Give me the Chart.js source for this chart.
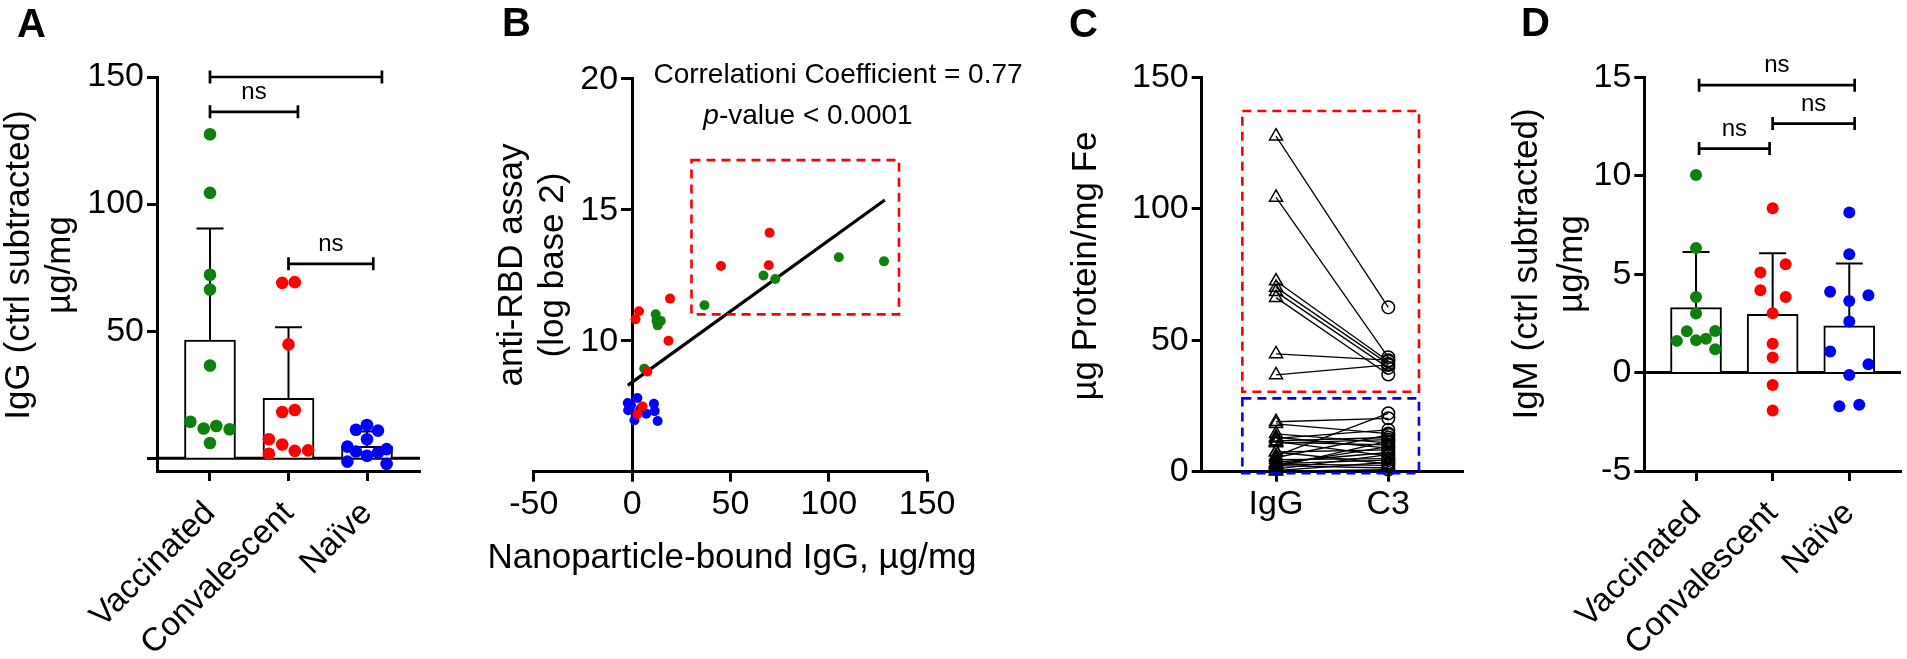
<!DOCTYPE html>
<html>
<head>
<meta charset="utf-8">
<title>Nanoparticle-bound IgG / C3 / IgM</title>
<script src="https://cdn.jsdelivr.net/npm/chart.js@4.4.1/dist/chart.umd.min.js"></script>
<style>
  body { margin: 0; background: #fff; }
  #wrap { position: relative; width: 1907px; height: 659px; overflow: hidden; background: #fff; }
  #wrap canvas { position: absolute; top: 0; }
</style>
</head>
<body>
<div id="wrap">
  <canvas id="panelA" width="440" height="659" style="left:0px"></canvas>
  <canvas id="panelB" width="610" height="659" style="left:440px"></canvas>
  <canvas id="panelC" width="440" height="659" style="left:1050px"></canvas>
  <canvas id="panelD" width="417" height="659" style="left:1490px"></canvas>
</div>
<script>
// ---- data ----
var groups = ['Vaccinated', 'Convalescent', 'Naïve'];

// A: IgG (ctrl subtracted), ug/mg. jitter = horizontal dot offset in the swarm
var iggVaccinated = [127.5, 104.4, 72.2, 66.4, 36.5, 14.4, 11.7, 12.7, 11.4, 6.0];
var iggVaccinatedJitter = [0, 0, 0, 0, 0, -0.25, -0.08, 0.08, 0.25, 0];
var iggConvalescent = [69.0, 69.3, 44.8, 18.2, 19.0, 7.5, 5.4, 2.9, 3.1, 1.8];
var iggConvalescentJitter = [-0.08, 0.08, 0, -0.08, 0.08, -0.25, -0.08, 0.08, 0.25, -0.25];
var iggNaive = [13.1, 11.2, 10.9, 7.5, 4.6, 3.6, 2.7, 2.3, 1.0, -1.3, -2.2];
var iggNaiveJitter = [0, -0.14, 0.14, 0, -0.25, 0.25, -0.14, 0.14, 0, -0.25, 0.25];
var iggMean = [46.5, 23.6, 4.7];
var iggMeanPlusSd = [90.4, 51.6, 10.5];
var sigA = [
  {from: 0, to: 2.19, y: 150, text: ''},
  {from: 0, to: 1.12, y: 136.3, text: 'ns'},
  {from: 1.0, to: 2.08, y: 76.5, text: 'ns'}
];

// B: anti-RBD assay vs nanoparticle-bound IgG
var rbdVaccX = [12.0, 12.4, 14.6, 13.0, 36.8, 66.8, 72.8, 105.1, 128.1, 6.2];
var rbdVaccY = [11.0, 10.75, 10.75, 10.58, 11.35, 12.48, 12.35, 13.18, 13.02, 8.93];
var rbdConvX = [1.75, 3.5, 19.3, 18.5, 45.2, 69.5, 69.9, 7.8, 5.3, 2.7];
var rbdConvY = [10.81, 11.12, 11.6, 9.99, 12.84, 12.87, 14.11, 8.82, 7.49, 7.19];
var rbdNaiveX = [-2.2, 2.7, -2.0, 11.1, 11.5, 7.2, 1.2, 13.0, -0.6, 3.3, 4.5];
var rbdNaiveY = [7.62, 7.81, 7.34, 7.59, 7.31, 7.21, 6.96, 6.93, 7.53, 7.27, 7.42];
var rbdTicks = [10, 15, 20];
var fitX = [-2.2, 128.5];
var fitY = [8.29, 15.36];
var boxB = {x0: 30.2, x1: 135.7, y0: 11.0, y1: 16.88};

// C: paired IgG / C3, ug protein per mg Fe
var pairLabels = ['IgG', 'C3'];
var pairIgG = [127.6, 104.3, 72.5, 70.1, 68.4, 66.2, 44.8, 36.8,
  19.0, 18.2, 14.4, 13.1, 12.7, 11.7, 11.4, 11.2, 10.9, 7.5, 7.5, 6.0, 5.4, 4.6,
  3.6, 3.1, 2.9, 2.7, 2.3, 1.8, 1.0, 0.4, 0.2];
var pairC3 = [62.5, 43.5, 42.0, 41.0, 39.5, 37.0, 42.4, 40.6,
  20.3, 14.5, 11.0, 9.0, 15.9, 13.0, 6.0, 10.2, 12.2, 3.0, 8.3, 22.2, 14.0, 5.0,
  7.3, 4.4, 2.4, 9.5, 1.4, 11.6, 6.5, 3.6, 0.8];
var boxHigh = {x0: -0.30, x1: 1.273, y0: 30.4, y1: 137.2};
var boxLow = {x0: -0.30, x1: 1.273, y0: -0.6, y1: 27.9};

// D: IgM (ctrl subtracted), ug/mg
var igmVaccinated = [10.04, 6.33, 3.84, 3.0, 2.10, 2.11, 1.61, 1.64, 1.72, 1.18];
var igmVaccinatedJitter = [0, 0, 0, 0, -0.12, 0.25, -0.25, 0, 0.13, 0.25];
var igmConvalescent = [8.35, 5.08, 5.50, 4.18, 3.84, 3.01, 1.47, 0.76, -0.63, -1.93];
var igmConvalescentJitter = [0, -0.16, 0.17, -0.16, 0.17, 0, 0, 0, 0, 0];
var igmNaive = [8.13, 6.01, 4.10, 3.93, 3.64, 2.59, 1.07, 0.42, -0.12, -1.71, -1.64];
var igmNaiveJitter = [0, 0, -0.25, 0.25, 0, 0, -0.25, 0.25, 0, -0.13, 0.13];
var igmMean = [3.30, 2.96, 2.37];
var igmMeanPlusSd = [6.13, 6.06, 5.54];
var sigD = [
  {from: 0.04, to: 2.07, y: 14.6, text: 'ns'},
  {from: 1.0, to: 2.07, y: 12.65, text: 'ns'},
  {from: 0.04, to: 0.96, y: 11.38, text: 'ns'}
];

// ---- styling ----
var FONT = "'Liberation Sans', Arial, Helvetica, sans-serif";
var GREEN = '#0f800f', RED = '#ff0000', BLUE = '#0000ff', BLACK = '#000000';
Chart.defaults.font.family = FONT;
Chart.defaults.color = BLACK;

function swarm(values, jitter, group) {
  return values.map(function (v, i) { return {x: group + jitter[i], y: v}; });
}
function pts(xs, ys) {
  return xs.map(function (x, i) { return {x: x, y: ys[i]}; });
}
function grid() {
  return {display: true, drawOnChartArea: false, drawTicks: true, tickLength: 10, tickWidth: 3, color: BLACK, offset: false};
}
var axisBorder = {display: true, color: BLACK, width: 3};

// extra drawing per canvas (titles, brackets, error bars, dashed boxes)
var decor = {};

function drawRect(ctx, xs, ys, b, color) {
  var l = xs.getPixelForValue(b.x0), r = xs.getPixelForValue(b.x1);
  var t = ys.getPixelForValue(b.y1), btm = ys.getPixelForValue(b.y0);
  ctx.save();
  ctx.strokeStyle = color; ctx.lineWidth = 2.6; ctx.setLineDash([9, 6]);
  ctx.strokeRect(l, t, r - l, btm - t);
  ctx.restore();
}

var decorPlugin = {
  id: 'decor',
  beforeDatasetsDraw: function (chart) {
    var d = decor[chart.canvas.id];
    var ctx = chart.ctx, xs = chart.scales.x, ys = chart.scales.y, area = chart.chartArea;
    ctx.save();
    ctx.strokeStyle = BLACK;
    if (d.zeroLine) {
      var y0 = ys.getPixelForValue(0);
      ctx.lineWidth = 3;
      ctx.beginPath(); ctx.moveTo(area.left, y0); ctx.lineTo(area.right, y0); ctx.stroke();
    }
    if (d.errorBars) {
      ctx.lineWidth = 2;
      d.errorBars.mean.forEach(function (m, i) {
        var x = xs.getPixelForValue(i);
        var yb = ys.getPixelForValue(m), yt = ys.getPixelForValue(d.errorBars.top[i]);
        ctx.beginPath();
        ctx.moveTo(x, yb); ctx.lineTo(x, yt);
        ctx.moveTo(x - 13.5, yt); ctx.lineTo(x + 13.5, yt);
        ctx.stroke();
      });
    }
    ctx.restore();
  },
  afterDatasetsDraw: function (chart) {
    var d = decor[chart.canvas.id];
    if (!d.boxes) return;
    d.boxes.forEach(function (b) { drawRect(chart.ctx, chart.scales.x, chart.scales.y, b.box, b.color); });
  },
  afterDraw: function (chart) {
    var d = decor[chart.canvas.id];
    var ctx = chart.ctx, xs = chart.scales.x, ys = chart.scales.y;
    ctx.save();
    ctx.fillStyle = BLACK; ctx.strokeStyle = BLACK;
    ctx.textBaseline = 'alphabetic';

    // panel letter
    ctx.font = 'bold 40px ' + FONT;
    ctx.textAlign = 'left';
    ctx.fillText(d.letter[0], d.letter[1], d.letter[2]);

    // y tick labels for an axis that crosses at x = 0
    if (d.yLabels) {
      ctx.font = '34px ' + FONT;
      ctx.textAlign = 'right';
      ctx.textBaseline = 'middle';
      var ax = xs.getPixelForValue(0);
      d.yLabels.forEach(function (v) { ctx.fillText(String(v), ax - 14, ys.getPixelForValue(v) + 1); });
      ctx.textBaseline = 'alphabetic';
    }

    // rotated y title
    ctx.font = '35px ' + FONT;
    ctx.textAlign = 'center';
    d.yTitle.lines.forEach(function (t, i) {
      ctx.save();
      ctx.translate(d.yTitle.x[i], d.yTitle.cy);
      ctx.rotate(-Math.PI / 2);
      ctx.fillText(t, 0, 0);
      ctx.restore();
    });

    if (d.xTitle) {
      ctx.fillText(d.xTitle.text, d.xTitle.x, d.xTitle.y);
    }

    // significance brackets
    if (d.brackets) {
      ctx.lineWidth = 2.7;
      ctx.font = '24px ' + FONT;
      d.brackets.forEach(function (b) {
        var x0 = xs.getPixelForValue(b.from), x1 = xs.getPixelForValue(b.to), y = ys.getPixelForValue(b.y);
        ctx.beginPath();
        ctx.moveTo(x0, y); ctx.lineTo(x1, y);
        ctx.moveTo(x0, y - 6.5); ctx.lineTo(x0, y + 6.5);
        ctx.moveTo(x1, y - 6.5); ctx.lineTo(x1, y + 6.5);
        ctx.stroke();
        if (b.text) ctx.fillText(b.text, (x0 + x1) / 2, y - 13);
      });
    }

    // correlation note (panel B)
    if (d.note) {
      ctx.font = '28px ' + FONT;
      ctx.fillText(d.note.line1, d.note.x1, d.note.y1);
      ctx.font = 'italic 28px ' + FONT;
      var wp = ctx.measureText('p').width;
      ctx.font = '28px ' + FONT;
      var rest = '-value < 0.0001';
      var wr = ctx.measureText(rest).width;
      var left = d.note.x2 - (wp + wr) / 2;
      ctx.textAlign = 'left';
      ctx.font = 'italic 28px ' + FONT;
      ctx.fillText('p', left, d.note.y2);
      ctx.font = '28px ' + FONT;
      ctx.fillText(rest, left + wp, d.note.y2);
    }
    ctx.restore();
  }
};

var baseOptions = function (padding) {
  return {
    responsive: false,
    animation: false,
    events: [],
    layout: {padding: padding},
    plugins: {legend: {display: false}, tooltip: {enabled: false}}
  };
};

// ---------- Panel A ----------
decor.panelA = {
  letter: ['A', 17, 37],
  yTitle: {lines: ['IgG (ctrl subtracted)', 'µg/mg'], x: [29, 70], cy: 265},
  zeroLine: true,
  errorBars: {mean: iggMean, top: iggMeanPlusSd},
  brackets: sigA
};
var optsA = baseOptions({left: 0, right: 20, top: 77, bottom: 0});
optsA.scales = {
  x: {
    type: 'linear', min: -0.675, max: 2.675, offset: false,
    afterBuildTicks: function (s) { s.ticks = groups.map(function (g, i) { return {value: i}; }); },
    afterFit: function (s) { s.height = 188; },
    ticks: {callback: function (v) { return groups[v]; }, font: {size: 33}, color: BLACK,
      minRotation: 45, maxRotation: 45, autoSkip: false, padding: 13},
    grid: grid(), border: axisBorder
  },
  y: {
    min: -5, max: 150,
    afterBuildTicks: function (s) { s.ticks = [0, 50, 100, 150].map(function (v) { return {value: v}; }); },
    afterFit: function (s) { s.width = 157; },
    ticks: {callback: function (v) { return v === 0 ? '' : v; }, font: {size: 34}, color: BLACK, padding: 3},
    grid: grid(), border: axisBorder
  }
};
var chartA = new Chart(document.getElementById('panelA'), {
  type: 'bar',
  data: {
    datasets: [
      {type: 'scatter', data: swarm(iggVaccinated, iggVaccinatedJitter, 0), backgroundColor: GREEN,
        pointRadius: 6.3, pointBorderWidth: 0, order: 1, clip: false},
      {type: 'scatter', data: swarm(iggConvalescent, iggConvalescentJitter, 1), backgroundColor: RED,
        pointRadius: 6.3, pointBorderWidth: 0, order: 1, clip: false},
      {type: 'scatter', data: swarm(iggNaive, iggNaiveJitter, 2), backgroundColor: BLUE,
        pointRadius: 6.3, pointBorderWidth: 0, order: 1, clip: false},
      {type: 'bar', data: iggMean.map(function (v, i) { return {x: i, y: v}; }), backgroundColor: '#ffffff',
        borderColor: BLACK, borderWidth: 2, barThickness: 51, order: 5}
    ]
  },
  options: optsA,
  plugins: [decorPlugin]
});

// ---------- Panel B ----------
decor.panelB = {
  letter: ['B', 62, 36],
  yTitle: {lines: ['anti-RBD assay', '(log base 2)'], x: [82, 123], cy: 265},
  yLabels: rbdTicks,
  xTitle: {text: 'Nanoparticle-bound IgG, µg/mg', x: 292, y: 568},
  boxes: [{box: boxB, color: RED}],
  note: {line1: 'Correlationi Coefficient = 0.77', x1: 398, y1: 83, x2: 368, y2: 124}
};
var optsB = baseOptions({left: 93.75, right: 122.9, top: 78.3, bottom: 0});
optsB.scales = {
  x: {
    type: 'linear', min: -50, max: 150,
    afterFit: function (s) { s.height = 187.3; },
    ticks: {stepSize: 50, font: {size: 34}, color: BLACK, padding: 3, maxRotation: 0},
    grid: grid(), border: axisBorder
  },
  y: {
    type: 'linear', min: 5, max: 20, position: {x: 0},
    // labels of this crossing axis are drawn by the decor plugin so they clear the tick marks
    ticks: {stepSize: 5, callback: function () { return ''; }, font: {size: 34}, color: BLACK, padding: 3},
    grid: grid(), border: axisBorder
  }
};
var chartB = new Chart(document.getElementById('panelB'), {
  type: 'scatter',
  data: {
    datasets: [
      {data: pts(rbdVaccX, rbdVaccY), backgroundColor: GREEN, pointRadius: 5, pointBorderWidth: 0, order: 1},
      {data: pts(rbdNaiveX, rbdNaiveY), backgroundColor: BLUE, pointRadius: 5, pointBorderWidth: 0, order: 1},
      {data: pts(rbdConvX, rbdConvY), backgroundColor: RED, pointRadius: 5, pointBorderWidth: 0, order: 0},
      {type: 'line', data: pts(fitX, fitY), borderColor: BLACK, borderWidth: 3.2, pointRadius: 0, order: 5}
    ]
  },
  options: optsB,
  plugins: [decorPlugin]
});

// ---------- Panel C ----------
decor.panelC = {
  letter: ['C', 19, 37],
  yTitle: {lines: ['µg Protein/mg Fe'], x: [46], cy: 266},
  boxes: [{box: boxHigh, color: RED}, {box: boxLow, color: BLUE}]
};
var optsC = baseOptions({left: 0, right: 26.7, top: 77.3, bottom: 0});
optsC.scales = {
  x: {
    type: 'linear', min: -0.662, max: 1.668,
    afterBuildTicks: function (s) { s.ticks = pairLabels.map(function (g, i) { return {value: i}; }); },
    afterFit: function (s) { s.height = 187.3; },
    ticks: {callback: function (v) { return pairLabels[v]; }, font: {size: 34}, color: BLACK, padding: 3, maxRotation: 0},
    grid: grid(), border: axisBorder
  },
  y: {
    min: 0, max: 150,
    afterFit: function (s) { s.width = 151.7; },
    ticks: {stepSize: 50, font: {size: 34}, color: BLACK, padding: 3},
    grid: grid(), border: axisBorder
  }
};
var pairLines = pairIgG.map(function (v, i) {
  return {type: 'line', data: [{x: 0, y: v}, {x: 1, y: pairC3[i]}], borderColor: BLACK, borderWidth: 1.3,
    pointRadius: 0, order: 3, clip: false};
});
var chartC = new Chart(document.getElementById('panelC'), {
  type: 'scatter',
  data: {
    datasets: pairLines.concat([
      {data: pairIgG.map(function (v) { return {x: 0, y: v}; }), pointStyle: 'triangle', pointRadius: 7.5,
        borderColor: BLACK, borderWidth: 1.5, backgroundColor: 'rgba(0,0,0,0)', order: 0, clip: false},
      {data: pairC3.map(function (v) { return {x: 1, y: v}; }), pointStyle: 'circle', pointRadius: 6.3,
        borderColor: BLACK, borderWidth: 1.5, backgroundColor: 'rgba(0,0,0,0)', order: 0, clip: false}
    ])
  },
  options: optsC,
  plugins: [decorPlugin]
});

// ---------- Panel D ----------
decor.panelD = {
  letter: ['D', 31, 36],
  yTitle: {lines: ['IgM (ctrl subtracted)', 'µg/mg'], x: [47, 92], cy: 264},
  zeroLine: true,
  errorBars: {mean: igmMean, top: igmMeanPlusSd},
  brackets: sigD
};
var optsD = baseOptions({left: 0, right: 0, top: 77.3, bottom: 0});
optsD.scales = {
  x: {
    type: 'linear', min: -0.675, max: 2.675, offset: false,
    afterBuildTicks: function (s) { s.ticks = groups.map(function (g, i) { return {value: i}; }); },
    afterFit: function (s) { s.height = 188; },
    ticks: {callback: function (v) { return groups[v]; }, font: {size: 33}, color: BLACK,
      minRotation: 45, maxRotation: 45, autoSkip: false, padding: 13},
    grid: grid(), border: axisBorder
  },
  y: {
    min: -5, max: 15,
    afterFit: function (s) { s.width = 154.3; },
    ticks: {stepSize: 5, font: {size: 34}, color: BLACK, padding: 3},
    grid: grid(), border: axisBorder
  }
};
var chartD = new Chart(document.getElementById('panelD'), {
  type: 'bar',
  data: {
    datasets: [
      {type: 'scatter', data: swarm(igmVaccinated, igmVaccinatedJitter, 0), backgroundColor: GREEN,
        pointRadius: 6, pointBorderWidth: 0, order: 1, clip: false},
      {type: 'scatter', data: swarm(igmConvalescent, igmConvalescentJitter, 1), backgroundColor: RED,
        pointRadius: 6, pointBorderWidth: 0, order: 1, clip: false},
      {type: 'scatter', data: swarm(igmNaive, igmNaiveJitter, 2), backgroundColor: BLUE,
        pointRadius: 6, pointBorderWidth: 0, order: 1, clip: false},
      {type: 'bar', data: igmMean.map(function (v, i) { return {x: i, y: v}; }), backgroundColor: '#ffffff',
        borderColor: BLACK, borderWidth: 2, barThickness: 51, order: 5}
    ]
  },
  options: optsD,
  plugins: [decorPlugin]
});
</script>
</body>
</html>
